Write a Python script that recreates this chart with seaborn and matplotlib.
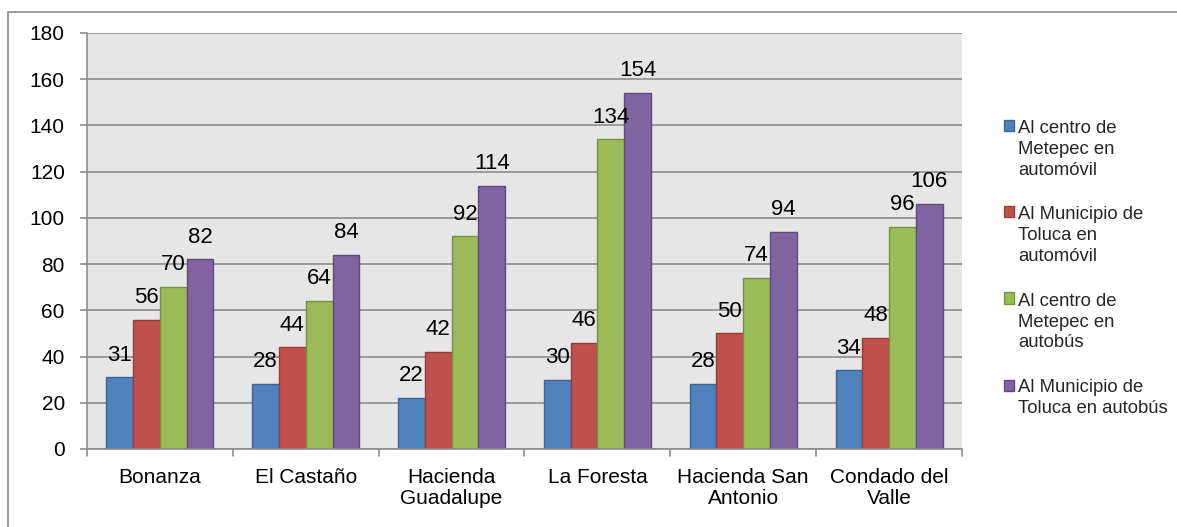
import matplotlib
matplotlib.use("Agg")
import matplotlib.pyplot as plt
import matplotlib.patches as mpatches
from matplotlib.legend_handler import HandlerPatch
import seaborn as sns
import pandas as pd

categories = ["Bonanza", "El Castaño", "Hacienda\nGuadalupe", "La Foresta",
              "Hacienda San\nAntonio", "Condado del\nValle"]
series_names = ["Al centro de\nMetepec en\nautomóvil",
                "Al Municipio de\nToluca en\nautomóvil",
                "Al centro de\nMetepec en\nautobús",
                "Al Municipio de\nToluca en autobús"]
metepec_auto = [31, 28, 22, 30, 28, 34]
toluca_auto = [56, 44, 42, 46, 50, 48]
metepec_bus = [70, 64, 92, 134, 74, 96]
toluca_bus = [82, 84, 114, 154, 94, 106]
y_ticks = [0, 20, 40, 60, 80, 100, 120, 140, 160, 180]

fill_colors = ["#4F81BD", "#C0504D", "#9BBB59", "#8064A2"]
edge_colors = ["#3A6595", "#9A3B38", "#76923F", "#5F4A7C"]

LEGEND_LINESPACING = 1.3

sns.set_theme(style="white")
plt.rcParams["font.family"] = ["Liberation Sans", "DejaVu Sans"]

rows = []
for name, vals in zip(series_names, [metepec_auto, toluca_auto, metepec_bus, toluca_bus]):
    for cat, v in zip(categories, vals):
        rows.append({"cat": cat, "serie": name, "valor": v})
df = pd.DataFrame(rows)

fig = plt.figure(figsize=(11.77, 5.27), dpi=100)
ax = fig.add_axes([87 / 1177, 1 - 449 / 527, (962 - 87) / 1177, (449 - 33) / 527])

sns.barplot(data=df, x="cat", y="valor", hue="serie", order=categories,
            hue_order=series_names, palette=fill_colors, saturation=1, width=0.734,
            linewidth=1.0, edgecolor="black", legend=False, ax=ax)

for i, cont in enumerate(ax.containers):
    for bar in cont:
        bar.set_edgecolor(edge_colors[i])
    ax.bar_label(cont, fontsize=16, padding=8.5, color="black")

ax.set_facecolor("#E6E6E6")
ax.set_ylim(0, 180)
ax.set_xlim(-0.5, len(categories) - 0.5)
ax.set_yticks(y_ticks)
ax.yaxis.grid(True, color="#8C8C8C", linewidth=1.2)
ax.set_axisbelow(True)
ax.set_xlabel("")
ax.set_ylabel("")
for side in ["top", "right"]:
    ax.spines[side].set_visible(False)
for side in ["left", "bottom"]:
    ax.spines[side].set_color("#8C8C8C")
    ax.spines[side].set_linewidth(1.2)

ax.tick_params(axis="y", labelsize=15, length=5, width=1.2, color="#8C8C8C",
               left=True, pad=11, labelcolor="black")
ax.set_xticks(range(len(categories)))
ax.set_xticklabels(categories, fontsize=15, color="black", linespacing=1.12)
ax.tick_params(axis="x", length=0, pad=13.5)
# category separators below the x axis
for b in [i - 0.5 for i in range(len(categories) + 1)]:
    ax.plot([b, b], [0, -3], color="#8C8C8C", linewidth=1.2, clip_on=False)


class TopAlignedPatch(HandlerPatch):
    """Legend key aligned with the first line of a multi-line label."""

    def create_artists(self, legend, orig_handle, xdescent, ydescent,
                       width, height, fontsize, trans):
        nlines = orig_handle.get_label().count("\n") + 1
        shift = (nlines - 1) / 2 * LEGEND_LINESPACING * fontsize
        p = mpatches.Rectangle((-xdescent, -ydescent + shift), width, height)
        self.update_prop(p, orig_handle, legend)
        p.set_transform(trans)
        return [p]


handles = [mpatches.Patch(facecolor=c, edgecolor=e, linewidth=1.0, label=n)
           for c, e, n in zip(fill_colors, edge_colors, series_names)]
leg = fig.legend(handles=handles, loc="upper left",
                 bbox_to_anchor=(1004 / 1177, 1 - 120 / 527),
                 frameon=False, fontsize=13.3, handlelength=0.55, handleheight=0.55,
                 handletextpad=0.2, labelspacing=1.49, borderaxespad=0, borderpad=0,
                 handler_map={mpatches.Patch: TopAlignedPatch()})
for t in leg.get_texts():
    t.set_linespacing(LEGEND_LINESPACING)

# outer chart border
fig.add_artist(mpatches.Rectangle((8 / 1177, -0.01), 1.1, 1 - 12 / 527 + 0.01,
                                  transform=fig.transFigure, fill=False,
                                  edgecolor="#8C8C8C", linewidth=1.2))

fig.savefig("out.png", dpi=100)
